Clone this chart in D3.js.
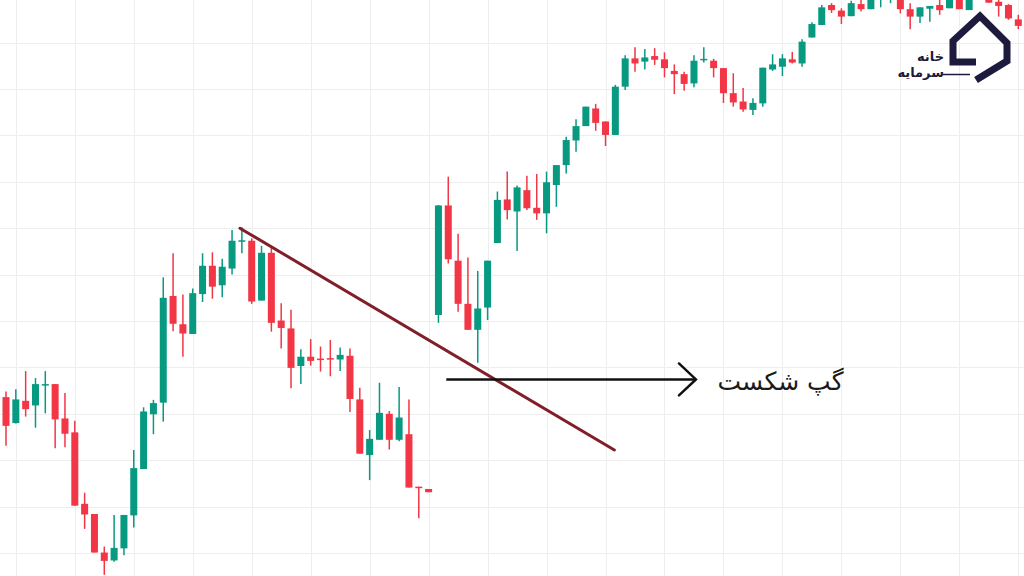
<!DOCTYPE html>
<html>
<head>
<meta charset="utf-8">
<script src="https://cdn.jsdelivr.net/npm/d3@7"></script>
<style>
  html, body { margin: 0; padding: 0; background: #ffffff; }
  svg { display: block; }
</style>
</head>
<body>
<svg id="chart" width="1024" height="576"></svg>
<script>
// ---- Data ----
const openP = [133.6,128.0,132.8,131.8,136.1,136.4,129.0,126.0,110.6,108.4,100.1,98.4,101.0,108.1,118.1,129.9,132.4,155.4,149.3,147.2,155.8,161.9,157.7,161.3,167.1,167.3,154.4,164.7,150.1,148.4,140.3,142.3,141.9,142.0,141.7,142.5,133.1,121.1,124.4,130.0,124.4,125.6,114.3,113.8,151.3,174.9,163.0,153.7,148.1,152.9,166.8,176.2,173.6,178.2,174.4,173.2,179.3,183.6,188.9,192.0,195.8,193.0,190.1,200.5,206.6,205.9,207.1,206.4,203.9,203.2,201.2,206.3,206.1,204.5,199.1,197.3,195.5,196.9,204.2,204.8,206.4,205.5,211.1,213.8,218.1,216.9,215.7,218.3,217.2,219.4,220.5,219.4,217.2,215.6,217.3,218.1,217.4,219.6,217.0,221.0,219.6,218.8,218.1,215.0];
const highP = [134.8,135.3,139.2,137.7,139.2,136.4,134.5,128.5,113.0,108.4,101.4,108.2,108.2,122.2,131.4,133.0,159.4,164.6,155.7,157.0,164.6,164.8,163.4,169.6,170.2,167.8,166.2,166.2,153.8,152.4,143.9,146.1,144.5,145.9,144.3,144.1,135.6,126.5,136.7,130.6,135.8,133.1,114.3,113.8,175.0,181.1,168.8,163.7,160.8,163.0,177.9,182.2,179.2,181.3,181.7,182.2,183.6,189.7,193.5,196.2,196.8,193.0,200.9,207.3,209.0,208.6,208.8,207.9,205.3,203.7,207.3,209.0,206.5,204.5,203.4,200.2,198.0,204.6,207.5,207.5,208.0,210.7,214.4,218.1,218.5,217.4,219.0,219.2,220.3,221.0,222.0,220.0,218.5,217.6,217.9,219.2,220.0,220.0,220.0,223.0,220.0,220.0,218.3,216.0];
const lowP = [123.1,127.9,129.4,127.0,130.1,122.6,122.8,110.2,105.2,100.1,95.3,98.1,99.5,105.5,118.1,125.6,128.3,147.8,142.3,147.2,154.1,154.8,155.1,160.0,164.6,153.7,154.4,147.7,144.1,135.5,136.4,140.4,139.1,138.1,139.2,130.4,121.4,115.7,124.4,122.3,124.1,114.1,107.5,113.1,149.6,162.4,152.0,148.1,141.0,150.2,166.8,171.9,165.1,173.9,171.8,168.9,174.6,181.8,186.5,192.0,191.0,187.7,190.1,199.8,203.7,204.2,205.2,202.5,198.9,199.6,200.4,205.7,202.5,197.0,196.2,195.1,194.4,196.2,203.9,202.8,205.5,204.8,211.1,213.8,216.4,214.0,215.7,216.7,217.2,217.6,218.5,216.3,212.9,214.2,214.5,216.0,217.4,217.2,217.0,220.5,218.6,215.6,214.9,212.9];
const closeP = [127.4,133.1,131.0,136.4,136.4,128.8,125.7,110.2,108.3,100.1,98.3,101.1,108.2,118.3,130.5,132.3,155.0,149.4,147.3,156.0,161.9,157.4,161.7,167.3,167.4,154.2,164.7,149.6,148.5,139.9,142.3,141.4,141.7,141.8,142.7,133.2,121.4,124.6,130.2,124.4,129.2,114.1,114.1,113.1,174.9,163.3,153.7,148.1,152.7,163.0,176.1,173.9,178.8,174.3,173.2,179.9,183.6,189.0,192.0,196.2,192.7,190.1,200.5,206.6,205.5,206.8,206.3,204.5,203.2,201.1,206.1,206.5,204.5,199.1,197.1,195.6,197.0,204.6,205.3,206.6,205.7,210.2,214.0,217.6,217.0,215.6,218.5,217.2,219.6,219.6,221.5,217.2,215.6,217.6,217.9,217.0,219.6,217.2,219.6,222.0,218.6,217.9,215.2,213.6];

const gridPrices = [100,110,120,130,140,150,160,170,180,190,200,210,220];
const gridEvery = 6;       // a vertical grid line every 6 candles
const gridOffset = 1;

// annotations in data units (candle index, price)
const trendLine = [{i: 23.8, p: 170.0}, {i: 61.9, p: 122.2}];
const gapArrow = [{i: 44.8, p: 137.4}, {i: 70.2, p: 137.4}];
const gapLabel = "گپ شکست";
const gapLabelPos = {i: 72.4, p: 137.0};
const logoLines = ["خانه", "سرمایه"];

// ---- Drawing ----
const W = 1024, H = 576;
const svg = d3.select("#chart");
const n = openP.length;
const candles = d3.range(n).map(i => ({i, o: openP[i], h: highP[i], l: lowP[i], c: closeP[i]}));

const x = d3.scaleLinear().domain([0, 103]).range([6, 1018.3]);
const y = d3.scaleLinear().domain([100, 210]).range([553, 42.6]);

const UP = "#089981", DOWN = "#f23645";

// grid
const grid = svg.append("g").attr("class", "grid");
const vIdx = d3.range(-1, 110).filter(i => (i - gridOffset) % gridEvery === 0);
grid.selectAll("line.v").data(vIdx).join("line")
  .attr("class", "v")
  .attr("x1", d => Math.round(x(d)) + 0.5).attr("x2", d => Math.round(x(d)) + 0.5)
  .attr("y1", 0).attr("y2", H)
  .attr("stroke", "#eeeeee").attr("stroke-width", 1);
grid.selectAll("line.h").data(gridPrices).join("line")
  .attr("class", "h")
  .attr("y1", d => Math.round(y(d)) + 0.5).attr("y2", d => Math.round(y(d)) + 0.5)
  .attr("x1", 0).attr("x2", W)
  .attr("stroke", "#eeeeee").attr("stroke-width", 1);

// candles
const bodyW = 7;
const cg = svg.append("g").attr("class", "candles");
const g = cg.selectAll("g").data(candles).join("g");
g.append("line")
  .attr("x1", d => x(d.i)).attr("x2", d => x(d.i))
  .attr("y1", d => y(d.h)).attr("y2", d => y(d.l))
  .attr("stroke", d => d.c >= d.o ? UP : DOWN)
  .attr("stroke-width", 1.5);
g.append("rect")
  .attr("x", d => x(d.i) - bodyW / 2)
  .attr("width", bodyW)
  .attr("y", d => y(Math.max(d.o, d.c)))
  .attr("height", d => Math.max(1.5, Math.abs(y(d.o) - y(d.c))))
  .attr("fill", d => d.c >= d.o ? UP : DOWN);

// trend line
svg.append("line")
  .attr("x1", x(trendLine[0].i)).attr("y1", y(trendLine[0].p))
  .attr("x2", x(trendLine[1].i)).attr("y2", y(trendLine[1].p))
  .attr("stroke", "#801f29").attr("stroke-width", 3).attr("stroke-linecap", "round");

// arrow
const ax1 = x(gapArrow[0].i), ax2 = x(gapArrow[1].i), ay = y(gapArrow[0].p);
svg.append("line")
  .attr("x1", ax1).attr("x2", ax2).attr("y1", ay).attr("y2", ay)
  .attr("stroke", "#111").attr("stroke-width", 2.5);
svg.append("path")
  .attr("d", `M${ax2 - 17},${ay - 16} L${ax2},${ay} L${ax2 - 17},${ay + 16}`)
  .attr("fill", "none").attr("stroke", "#111").attr("stroke-width", 2.5)
  .attr("stroke-linecap", "round").attr("stroke-linejoin", "miter");

svg.append("text")
  .attr("x", x(gapLabelPos.i)).attr("y", y(gapLabelPos.p) + 9)
  .attr("text-anchor", "start")
  .attr("font-family", "DejaVu Sans, Noto Sans, sans-serif")
  .attr("font-size", 25)
  .attr("fill", "#1a1a1a")
  .text(gapLabel);

// logo
const logo = svg.append("g").attr("class", "logo");
logo.append("path")
  .attr("d", "M976,62 L953,62 L953,41 L980,16 L1007,43 L1007,61 L976,80")
  .attr("fill", "none").attr("stroke", "#1c1a3d").attr("stroke-width", 7)
  .attr("stroke-linejoin", "miter");
logo.append("text")
  .attr("x", 944).attr("y", 61).attr("text-anchor", "end")
  .attr("font-family", "DejaVu Sans, sans-serif").attr("font-size", 13)
  .attr("font-weight", "bold")
  .attr("fill", "#1c1a3d").text(logoLines[0]);
logo.append("text")
  .attr("x", 944).attr("y", 77).attr("text-anchor", "end")
  .attr("font-family", "DejaVu Sans, sans-serif").attr("font-size", 13)
  .attr("font-weight", "bold")
  .attr("fill", "#1c1a3d").text(logoLines[1]);
logo.append("line")
  .attr("x1", 943).attr("x2", 970).attr("y1", 74.5).attr("y2", 74.5)
  .attr("stroke", "#1c1a3d").attr("stroke-width", 1.5);
</script>
</body>
</html>
